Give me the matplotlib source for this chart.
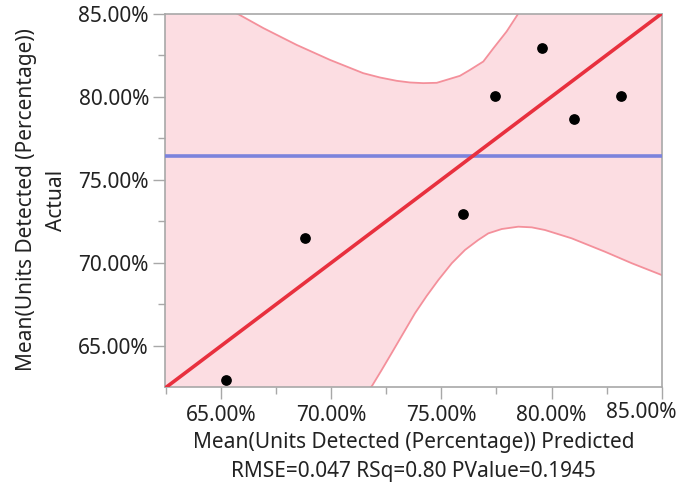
import matplotlib.pyplot as plt
from matplotlib.ticker import MultipleLocator, FuncFormatter

plt.rcParams['font.family'] = ['Noto Sans', 'DejaVu Sans']

# predicted vs actual (percent)
predicted = [65.24, 68.82, 75.98, 77.44, 79.57, 81.01, 83.15]
actual = [62.95, 71.47, 72.91, 80.03, 82.90, 78.63, 80.03]

mean_actual = 76.42
fit_x = [62.45, 85.0]
fit_y = [62.45, 85.0]

# confidence curves (points beyond the frame get clipped)
upper_x = [62.45, 65.78, 66.92, 68.43, 69.94, 71.45, 72.21, 72.97, 73.57,
           74.18, 74.79, 75.24, 75.84, 76.30, 76.90, 77.36, 77.96, 78.49,
           80.0, 85.0]
upper_y = [86.80, 84.96, 84.12, 83.11, 82.21, 81.41, 81.15, 80.95, 80.85,
           80.81, 80.83, 81.01, 81.25, 81.61, 82.11, 82.91, 83.92, 85.00,
           88.0, 95.0]
lower_x = [62.45, 70.5, 71.86, 72.29, 72.74, 73.27, 73.80, 74.33, 74.86,
           75.47, 76.07, 76.67, 77.13, 77.74, 78.49, 79.10, 79.70, 80.91,
           82.43, 83.64, 85.0]
lower_y = [50.0, 60.4, 62.61, 63.55, 64.56, 65.76, 66.96, 68.00, 68.96,
           69.97, 70.77, 71.37, 71.77, 72.03, 72.17, 72.13, 71.97, 71.47,
           70.66, 69.97, 69.26]

fig = plt.figure(figsize=(6.8, 4.9), dpi=100)
ax = fig.add_axes([0.2426, 0.2112, 0.7305, 0.7612])

poly_x = upper_x + lower_x[::-1]
poly_y = upper_y + lower_y[::-1]
ax.fill(poly_x, poly_y, color='#fcdde2', lw=0, zorder=1)
ax.plot(upper_x, upper_y, color='#f4909b', lw=1.3, zorder=2)
ax.plot(lower_x, lower_y, color='#f4909b', lw=1.3, zorder=2)

ax.axhline(mean_actual, color='#7b83dc', lw=2.6, zorder=3)
ax.plot(fit_x, fit_y, color='#e8303e', lw=2.6, zorder=4)
ax.scatter(predicted, actual, s=45, color='black', zorder=5)

ax.set_xlim(62.45, 85.0)
ax.set_ylim(62.55, 85.0)

pct = lambda v, p: '{:.2f}%'.format(v)
# last x label is drawn by hand, pulled left so it stays inside the figure
xpct = lambda v, p: '' if v > 84.9 else '{:.2f}%'.format(v)
for axis, f in ((ax.xaxis, xpct), (ax.yaxis, pct)):
    axis.set_major_locator(MultipleLocator(5))
    axis.set_minor_locator(MultipleLocator(2.5))
    axis.set_major_formatter(FuncFormatter(f))

for s in ax.spines.values():
    s.set_color('#a8a8a8')
    s.set_linewidth(1.2)
ax.tick_params(which='major', length=8.5, width=1, color='#a8a8a8',
               labelsize=15, labelcolor='#222222', pad=3)
ax.tick_params(axis='x', which='major', pad=5)
ax.tick_params(which='minor', length=5, width=1, color='#a8a8a8')

ax.annotate('85.00%', xy=(1, 0), xycoords='axes fraction', xytext=(15, -15.5),
            textcoords='offset pixels', ha='right', va='top', fontsize=15,
            color='#222222', annotation_clip=False)

ax.set_xlabel('Mean(Units Detected (Percentage)) Predicted\nRMSE=0.047 RSq=0.80 PValue=0.1945',
              fontsize=15, linespacing=1.5, labelpad=4, color='#222222')
ax.set_ylabel('Mean(Units Detected (Percentage))\nActual',
              fontsize=15, linespacing=1.55, labelpad=8.5, color='#222222')

fig.savefig('out.png', dpi=100)
